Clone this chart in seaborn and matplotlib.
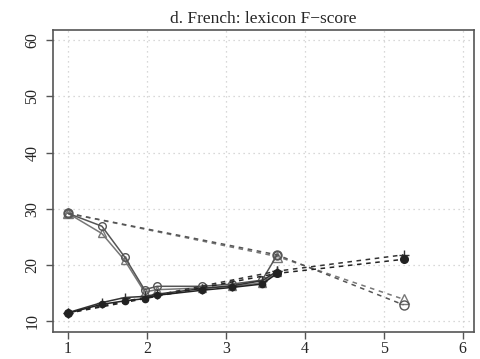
import matplotlib
matplotlib.use("Agg")
import matplotlib.pyplot as plt
import seaborn as sns
import pandas as pd

sns.set_style("white")
plt.rcParams['font.family'] = ['Liberation Serif', 'DejaVu Serif']

title = "d. French: lexicon F\u2212score"
x_solid = [1.0, 1.43, 1.72, 1.97, 2.13, 2.7, 3.08, 3.46, 3.65]
s_tri = [29.2, 25.6, 20.8, 15.2, 15.6, 15.9, 16.2, 16.8, 18.8]
s_circ = [29.2, 26.9, 21.4, 15.6, 16.2, 16.2, 16.6, 17.3, 21.8]
s_plus = [11.5, 13.3, 14.2, 14.4, 14.8, 15.8, 16.3, 17.2, 18.9]
s_fill = [11.4, 13.0, 13.6, 14.0, 14.6, 15.5, 16.0, 16.6, 18.5]

x_dash = [1.0, 3.65, 5.25]
d_tri = [29.2, 21.5, 13.9]
d_circ = [29.2, 21.8, 12.9]
d_plus = [11.5, 18.9, 21.8]
d_fill = [11.4, 18.5, 21.0]

xticks = [1, 2, 3, 4, 5, 6]
yticks = [10, 20, 30, 40, 50, 60]

fig = plt.figure(figsize=(4.81, 3.59), dpi=100)
ax = fig.add_axes([0.110, 0.075, 0.875, 0.841])

specs = [
    (s_tri, d_tri, '^', 'none', '#777777', 5.5),
    (s_circ, d_circ, 'o', 'none', '#555555', 5.5),
    (s_plus, d_plus, '+', 'none', '#333333', 6.5),
    (s_fill, d_fill, 'o', '#222222', '#222222', 4.5),
]
for s, d, m, fc, c, ms in specs:
    df = pd.DataFrame({'x': x_solid, 'y': s})
    sns.lineplot(data=df, x='x', y='y', ax=ax, color=c, marker=m,
                 markersize=ms, markerfacecolor=fc, markeredgecolor=c,
                 markeredgewidth=1.0, linewidth=1.1, estimator=None, sort=False)
    dd = pd.DataFrame({'x': x_dash, 'y': d})
    sns.lineplot(data=dd, x='x', y='y', ax=ax, color=c, marker=m,
                 markersize=ms + 1, markerfacecolor=fc, markeredgecolor=c,
                 markeredgewidth=1.0, linewidth=1.1, linestyle=(0, (3, 3)),
                 estimator=None, sort=False)

ax.set_xlim(0.81, 6.14)
ax.set_ylim(8.05, 61.8)
ax.set_xticks(xticks)
ax.set_yticks(yticks)
ax.set_xticklabels([str(v) for v in xticks], fontsize=11.5)
ax.set_yticklabels([str(v) for v in yticks], fontsize=11.5, rotation=90, va='center')
ax.set_xlabel('')
ax.set_ylabel('')
ax.grid(True, color='#cccccc', linestyle=(0, (1, 3)), linewidth=0.9)
ax.tick_params(axis='both', direction='out', length=5, width=1, color='#555555',
               left=True, bottom=True)
ax.tick_params(axis='x', pad=1.5)
ax.tick_params(axis='y', pad=4)
for sp in ax.spines.values():
    sp.set_color('#555555')
    sp.set_linewidth(1.2)
ax.set_title(title, fontsize=12.5, pad=5)

fig.savefig("out.png", dpi=100)
